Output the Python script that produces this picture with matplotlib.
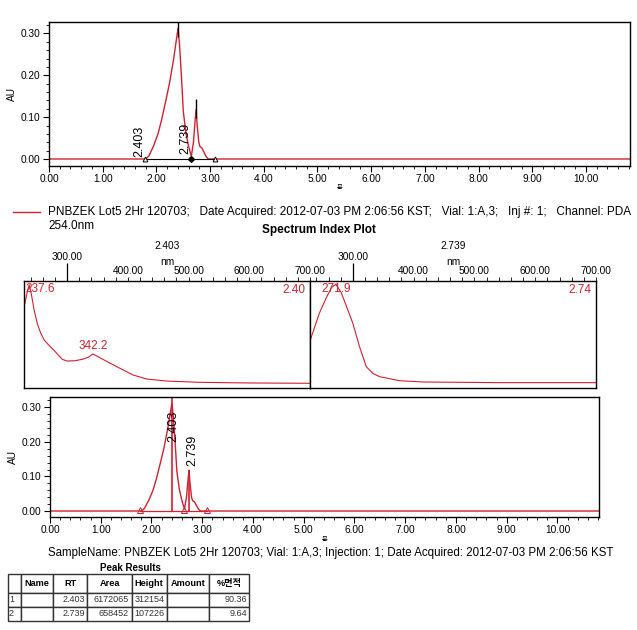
import matplotlib
matplotlib.use('Agg')
import matplotlib.pyplot as plt
from matplotlib.ticker import MultipleLocator, FormatStrFormatter
from matplotlib.lines import Line2D
from matplotlib.table import Table

plt.rcParams['font.family'] = ['Liberation Sans', 'Noto Sans CJK KR', 'DejaVu Sans']
plt.rcParams['font.size'] = 7

RED = '#d42030'

# chromatogram trace (minutes, AU)
rt_min = [0.0, 1.80, 1.86, 1.95, 2.03, 2.10, 2.18, 2.25, 2.32, 2.37, 2.403, 2.43,
          2.47, 2.50, 2.55, 2.60, 2.65, 2.69, 2.72, 2.739, 2.76, 2.79, 2.81, 2.85,
          2.89, 2.93, 2.97, 10.82]
au = [0.0, 0.0, 0.007, 0.032, 0.06, 0.095, 0.142, 0.185, 0.238, 0.283, 0.312, 0.275,
      0.19, 0.115, 0.062, 0.03, 0.006, 0.04, 0.09, 0.118, 0.08, 0.04, 0.03, 0.026,
      0.015, 0.005, 0.0, 0.0]

peak_rt = [2.403, 2.739]
peak_au = [0.312, 0.118]
peak_names = ['2.403', '2.739']
bound_rt = [1.78, 2.64, 3.09]   # integration start / valley / end

# UV spectra at each peak (nm, relative absorbance)
spec1_nm = [230.5, 234, 237.6, 241, 246, 251, 256, 262, 270, 278, 292, 300, 313,
            325, 335, 342.2, 349, 366, 387, 409, 431, 464, 518, 600, 700]
spec1_val = [0.79, 0.89, 0.965, 0.88, 0.72, 0.60, 0.52, 0.45, 0.40, 0.355, 0.268,
             0.252, 0.255, 0.268, 0.287, 0.318, 0.299, 0.246, 0.184, 0.121, 0.084,
             0.065, 0.053, 0.047, 0.044]
spec2_nm = [230, 245, 256, 265, 271.9, 281, 300, 311, 322, 333, 344, 377, 416, 542, 700]
spec2_val = [0.449, 0.70, 0.84, 0.94, 0.97, 0.89, 0.605, 0.386, 0.20, 0.136, 0.106,
             0.068, 0.056, 0.05, 0.05]
spec_maxima = [[237.6, 342.2], [271.9]]

# peak table
col_names = ['', 'Name', 'RT', 'Area', 'Height', 'Amount', '%면적']
row_ids = ['1', '2']
tbl_rt = ['2.403', '2.739']
tbl_area = ['6172065', '658452']
tbl_height = ['312154', '107226']
tbl_pct = ['90.36', '9.64']

sample_info = 'PNBZEK Lot5 2Hr 120703'
date_info = '2012-07-03 PM 2:06:56 KST'

W, H = 637, 630
fig = plt.figure(figsize=(W / 100, H / 100), dpi=100)


def box(x0, y0, x1, y1):
    # pixel box (top-left origin) -> figure fraction rect
    return [x0 / W, 1 - y1 / H, (x1 - x0) / W, (y1 - y0) / H]


def chrom_axes(ax):
    ax.set_xlim(0, 10.82)
    ax.xaxis.set_major_locator(MultipleLocator(1))
    ax.xaxis.set_minor_locator(MultipleLocator(0.2))
    ax.yaxis.set_major_locator(MultipleLocator(0.1))
    ax.yaxis.set_minor_locator(MultipleLocator(0.02))
    ax.xaxis.set_major_formatter(FormatStrFormatter('%.2f'))
    ax.yaxis.set_major_formatter(FormatStrFormatter('%.2f'))
    ax.tick_params(which='major', length=4, width=0.8, pad=2, labelsize=7.3)
    ax.tick_params(which='minor', length=2, width=0.6)
    ax.set_ylabel('AU', fontsize=7.3, labelpad=3)
    ax.set_xlabel('분', fontsize=4.5, labelpad=1)
    for s in ax.spines.values():
        s.set_linewidth(1.0)


# ---- top chromatogram ----
ax1 = fig.add_axes(box(49, 21.7, 630, 165.7))
ax1.plot(rt_min, au, color=RED, lw=1.0)
ax1.plot([bound_rt[0], bound_rt[-1]], [0, 0], color='black', lw=0.8)
ax1.plot([bound_rt[0], bound_rt[-1]], [0, 0], ls='none', marker='^', ms=3.5,
         mfc='white', mec='black', mew=0.7)
ax1.plot([bound_rt[1]], [0], ls='none', marker='D', ms=3, mfc='black', mec='black')
ax1.vlines(peak_rt, [h - 0.02 for h in peak_au], [h + 0.025 for h in peak_au],
           color='black', lw=1.0)
ax1.text(bound_rt[0] - 0.1, 0.004, peak_names[0], rotation=90, ha='center',
         va='bottom', fontsize=9)
ax1.text(bound_rt[1] - 0.1, 0.012, peak_names[1], rotation=90, ha='center',
         va='bottom', fontsize=9)
ax1.set_ylim(-0.016, 0.328)
chrom_axes(ax1)

# legend line
fig.add_artist(Line2D([13 / W, 40 / W], [1 - 212 / H, 1 - 212 / H], color=RED, lw=1.0))
fig.text(48 / W, 1 - 212 / H,
         sample_info + ';   Date Acquired: ' + date_info +
         ';   Vial: 1:A,3;   Inj #: 1;   Channel: PDA',
         fontsize=8.5, va='center', ha='left')
fig.text(48 / W, 1 - 226 / H, '254.0nm', fontsize=8.5, va='center', ha='left')

fig.text(0.5, 1 - 230 / H, 'Spectrum Index Plot', fontsize=8.5, weight='bold',
         ha='center', va='center')

# ---- spectra ----
specs = [(spec1_nm, spec1_val), (spec2_nm, spec2_val)]
spec_boxes = [box(24.3, 281, 310, 388), box(310, 281, 596, 388)]
for i, ((nm, val), rect) in enumerate(zip(specs, spec_boxes)):
    ax = fig.add_axes(rect)
    ax.plot(nm, val, color=RED, lw=0.8)
    ax.set_xlim(229.5, 700)
    ax.set_ylim(0, 1)
    ax.set_yticks([])
    ax.xaxis.tick_top()
    ax.set_xticks([300], labels=['300.00'])
    minor = [v for v in range(240, 701, 20) if v != 300]
    ax.set_xticks(minor, labels=['%.2f' % v if v % 100 == 0 else '' for v in minor],
                  minor=True)
    ax.tick_params(which='major', axis='x', length=13, width=0.9, pad=0.5, labelsize=7.3)
    ax.tick_params(which='minor', axis='x', length=3, width=0.6, pad=0.5, labelsize=7.3)
    ax.tick_params(axis='x', bottom=False)
    for s in ax.spines.values():
        s.set_linewidth(1.0)
    ax.text(0.5, 1.33, peak_names[i], transform=ax.transAxes, ha='center',
            va='center', fontsize=7.3)
    ax.text(0.5, 1.18, 'nm', transform=ax.transAxes, ha='center', va='center',
            fontsize=7.3)
    ax.text(0.985, 0.97, '%.2f' % peak_rt[i], transform=ax.transAxes, ha='right',
            va='top', color=RED, fontsize=8.5)
    for lam in spec_maxima[i]:
        idx = nm.index(lam)
        y = val[idx]
        if idx == 2 and i == 0:
            ax.text(0.003, 0.985, '%.1f' % lam, transform=ax.transAxes, ha='left',
                    va='top', color=RED, fontsize=8.5)
        elif i == 0:
            ax.text(lam, y + 0.015, '%.1f' % lam, ha='center', va='bottom',
                    color=RED, fontsize=8.5)
        else:
            ax.text(lam, 0.985, '%.1f' % lam, ha='center', va='top', color=RED,
                    fontsize=8.5)

# ---- bottom chromatogram ----
ax2 = fig.add_axes(box(50, 397.3, 599, 517))
ax2.plot(rt_min, au, color=RED, lw=1.0)
ax2.plot([bound_rt[0], bound_rt[-1]], [0, 0], color=RED, lw=0.9)
ax2.vlines(peak_rt, 0, [peak_au[0] + 0.015, peak_au[1]], color=RED, lw=1.2)
ax2.plot(bound_rt, [0.004] * len(bound_rt), ls='none', marker='^', ms=5,
         mfc='none', mec=RED, mew=0.7)
ax2.text(peak_rt[0] + 0.02, 0.2, peak_names[0], rotation=90, ha='center',
         va='bottom', fontsize=9)
ax2.text(peak_rt[1] + 0.06, 0.13, peak_names[1], rotation=90, ha='center',
         va='bottom', fontsize=9)
ax2.set_ylim(-0.0173, 0.329)
chrom_axes(ax2)

fig.text(331 / W, 1 - 553 / H,
         'SampleName: ' + sample_info + '; Vial: 1:A,3; Injection: 1; Date Acquired: '
         + date_info, fontsize=8.3, ha='center', va='center')
fig.text(130 / W, 1 - 568 / H, 'Peak Results', fontsize=7, weight='bold',
         ha='center', va='center')

# ---- peak table ----
tax = fig.add_axes(box(8.3, 574, 249.3, 621))
tax.set_axis_off()
table = Table(tax, bbox=[0, 0, 1, 1])
col_w = [12.7, 32.3, 34, 44.4, 35, 42.6, 40]
hdr_h, row_h = 18.7, 14.2
for j, name in enumerate(col_names):
    c = table.add_cell(0, j, width=col_w[j], height=hdr_h, text=name, loc='center',
                       edgecolor='#333333')
    c.get_text().set_fontweight('bold')
    c.get_text().set_fontsize(6.6)
    c.PAD = 0.05
rows = list(zip(row_ids, ['', ''], tbl_rt, tbl_area, tbl_height, ['', ''], tbl_pct))
for i, r in enumerate(rows, start=1):
    for j, txt in enumerate(r):
        c = table.add_cell(i, j, width=col_w[j], height=row_h, text=txt,
                           loc='left' if j == 0 else 'right', edgecolor='#333333')
        c.get_text().set_fontsize(6.5)
        c.get_text().set_color('#333333')
        c.PAD = 0.06
table.auto_set_font_size(False)
tax.add_table(table)

fig.savefig('out.png', dpi=100)
